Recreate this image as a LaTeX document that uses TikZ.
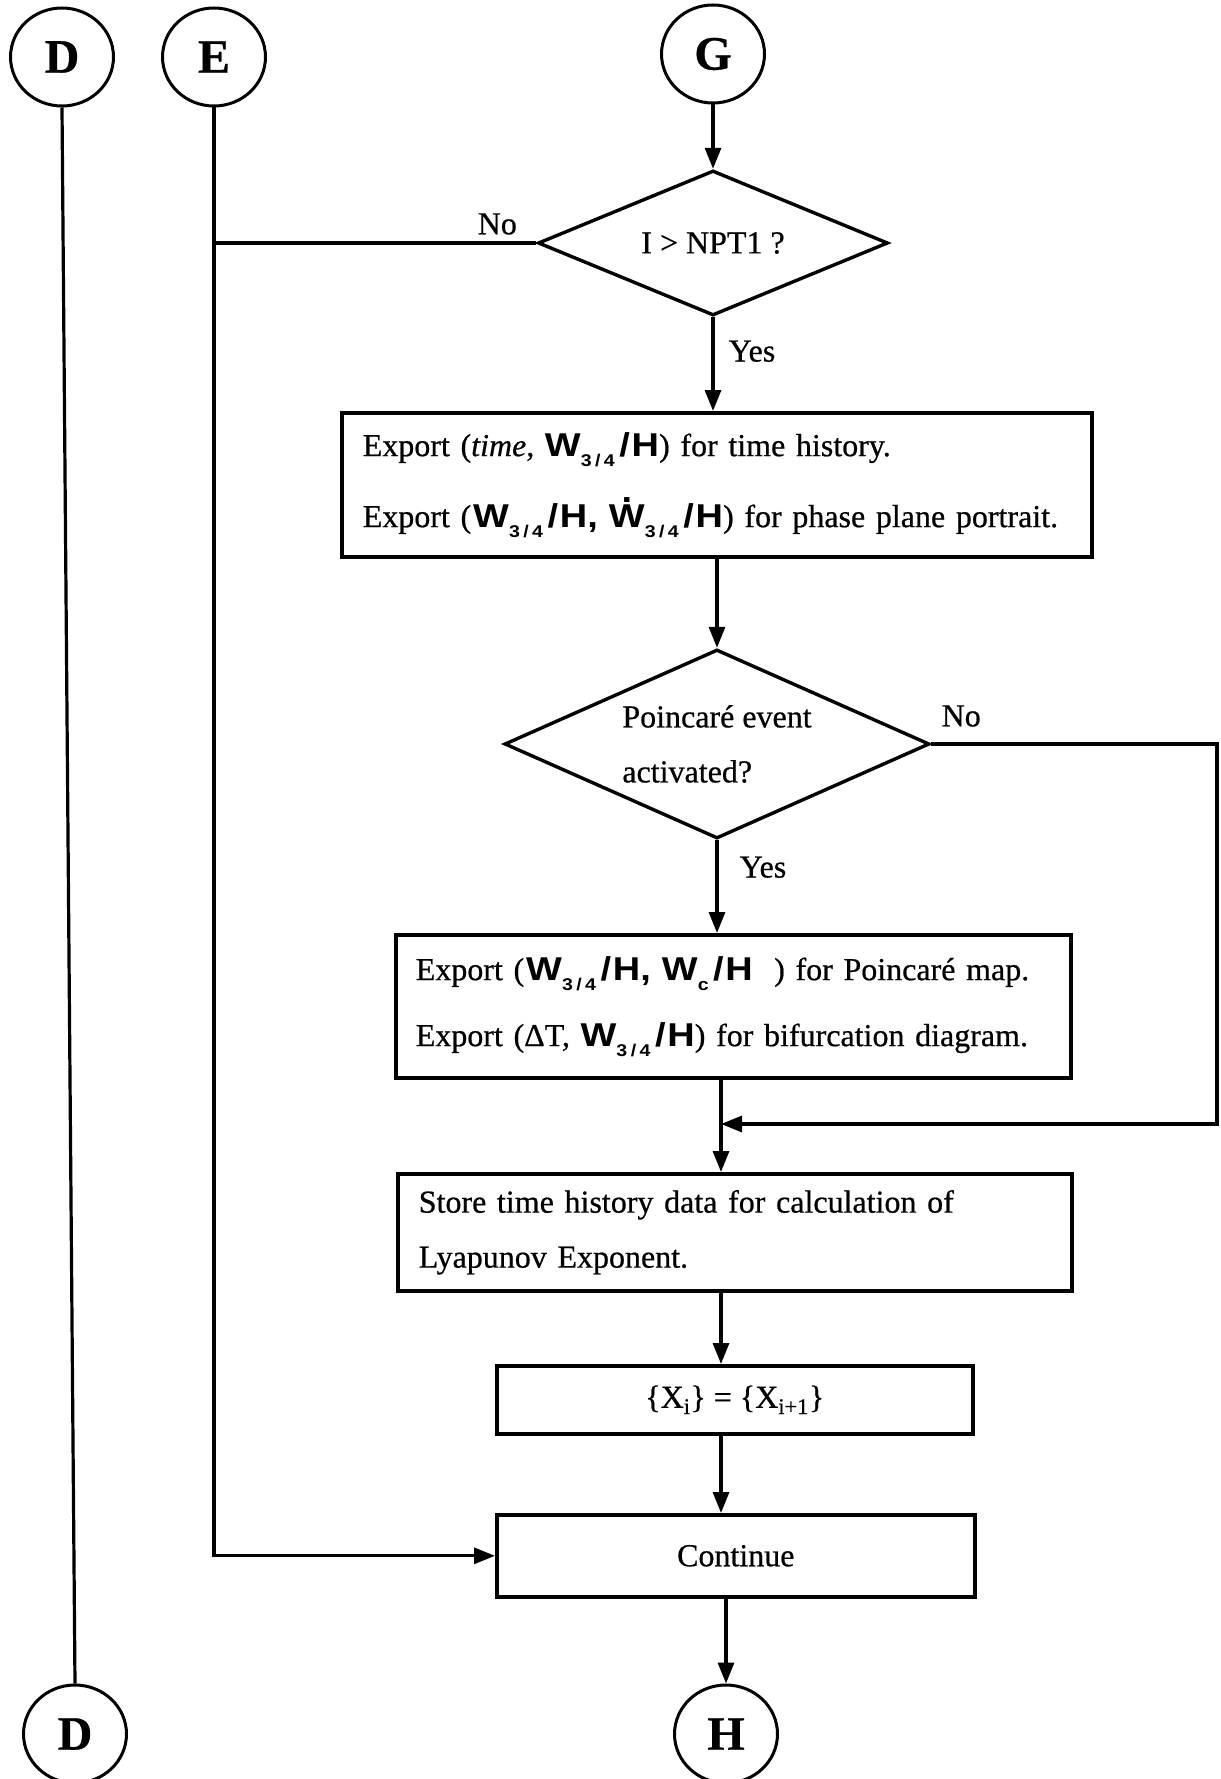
\documentclass[tikz,border=0pt]{standalone}
\usepackage{graphicx}
\usepackage{fontspec}
\setmainfont{Liberation Serif}[FakeBold=0.6]
\setsansfont{Liberation Sans}
\usetikzlibrary{arrows.meta,shapes.geometric,calc}

% bold, slightly widened sans symbols with a small lowered index
\newcommand\subq[1]{\raisebox{-0.3em}{\fontsize{17}{17}\selectfont #1}}
\newcommand\qq{3\kern3pt/\kern3pt4}
\newcommand\sym[1]{\scalebox{1.15}[1]{\sffamily\bfseries\fontsize{33}{33}\selectfont #1}}
\newcommand\Wq{\sym{W\subq{\qq}}}
\newcommand\Wc{\sym{W\subq{c}}}
\newcommand\Wdotq{\sym{\setbox0\hbox{W}\rlap{\hbox to\wd0{\hss\raisebox{0.76em}{.}\hss}}W\subq{\qq}}}
\newcommand\Hs{\sym{\kern4pt/\kern1.5pt H}}
\newcommand\cm{\sym{,}\hspace{11pt}}

\begin{document}
\begin{tikzpicture}[x=1pt,y=-1pt,
  every node/.style={font=\fontsize{32}{38}\selectfont},
  conn/.style={line width=3.2pt},
  arr/.style={conn,-{Triangle[length=21pt,width=16pt]}},
  term/.style={draw,ellipse,line width=3pt,minimum width=103pt,minimum height=98pt,
    inner sep=0pt,font=\fontsize{48}{48}\selectfont\bfseries},
  proc/.style={draw,line width=3.6pt,align=left,inner ysep=0pt,anchor=north west},
  boxc/.style={draw,line width=3.6pt,align=center,inner sep=0pt,anchor=north west},
  decis/.style={draw,diamond,line width=3.4pt,inner sep=0pt},
  lbl/.style={inner sep=0pt}]

\useasboundingbox[fill=white] (0,0) rectangle (1220,1779);

% connectors
\node[term] (dtop) at (62,57) {D};
\node[term] (etop) at (214,57) {E};
\node[term] (g) at (713,54) {G};
\node[term] (dbot) at (75,1734) {D};
\node[term] (h) at (726,1734) {H};

% decisions
\node[decis,aspect=2.41,minimum width=350pt,minimum height=145pt] (d1) at (713,243) {I > NPT1 ?};
\node[decis,aspect=2.25,minimum width=425pt,minimum height=189pt,align=left,
  font=\fontsize{32}{55}\selectfont] (d2) at (717,744) {Poincar\'e event\\activated?};

% process boxes
\node[proc,text width=708pt,inner xsep=21pt,minimum height=144pt,
  font=\fontsize{32}{71}\selectfont] (b1) at (340,411)
  {Export (\textit{time}, \Wq\Hs) for time history.\\
   Export (\kern2pt\Wq\Hs\cm\Wdotq\Hs) for phase plane portrait.};
\node[proc,text width=635pt,inner xsep=20pt,minimum height=143pt,
  font=\fontsize{32}{66}\selectfont] (b2) at (394,933)
  {Export (\kern2pt\Wq\Hs\cm\Wc\Hs\ \ ) for Poincar\'e map.\\
   Export (ΔT, \Wq\Hs) for bifurcation diagram.};
\node[proc,text width=632pt,inner xsep=21pt,minimum height=117pt,
  font=\fontsize{32}{55}\selectfont] (b3) at (396,1172)
  {Store time history data for calculation of\\
   Lyapunov Exponent.};
\node[boxc,minimum width=476pt,minimum height=68pt] (b4) at (495,1364)
  {\{X\textsubscript{i}\} = \{X\textsubscript{i+1}\}};
\node[boxc,minimum width=478pt,minimum height=82pt] (b5) at (495,1513) {Continue};

% guide line for the lower flow and the merge point of the right loop
\coordinate (spine) at (721,0);
\coordinate (merge) at (721,1124);
\coordinate (loopR) at (1217,0);

% flow
\draw[arr] (g.south) -- (d1.north);
\draw[arr] (d1.south) -- (b1.north -| d1.south);
\draw[arr] (b1.south -| d2.north) -- (d2.north);
\draw[arr] (d2.south) -- (d2.south |- b2.north);
\draw[arr] (b2.south -| spine) -- (b3.north -| spine);
\draw[arr] (d2.east) -- (d2.east -| loopR) |- (merge);
\draw[arr] (b3.south -| spine) -- (b4.north -| spine);
\draw[arr] (b4.south -| spine) -- (b5.north -| spine);
\draw[arr] (b5.south -| h.north) -- (h.north);
\draw[conn] (d1.west) -- (d1.west -| etop);
\draw[arr] (etop.south) |- (b5.west);
\draw[conn] (dtop.south) -- (dbot.north);

% branch labels
\node[lbl] at ($(d1.west)+(-39,-19)$) {No};
\node[lbl] at ($(d1.south)+(39,34)$) {Yes};
\node[lbl] at ($(d2.east)+(30,-28)$) {No};
\node[lbl] at ($(d2.south)+(46,27)$) {Yes};
\end{tikzpicture}
\end{document}
